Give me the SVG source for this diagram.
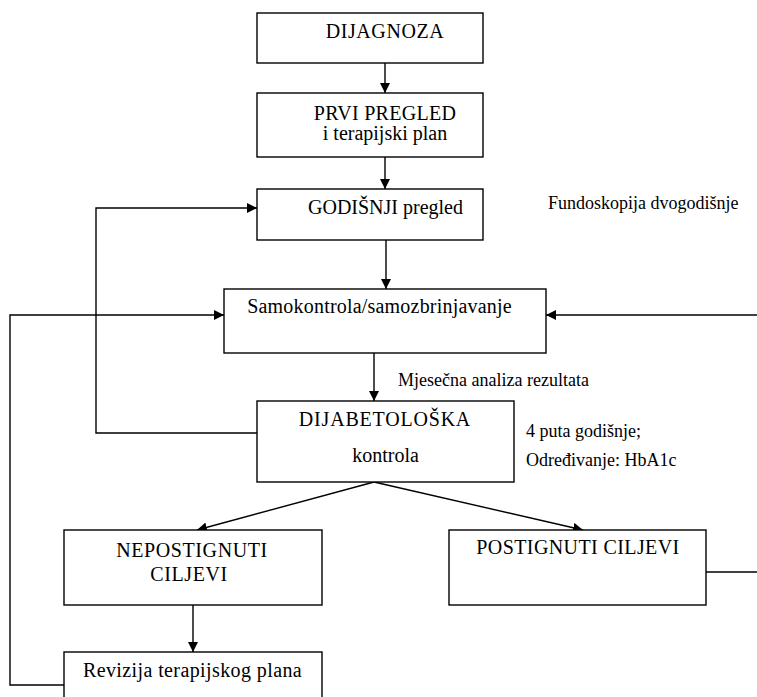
<svg xmlns="http://www.w3.org/2000/svg" width="757" height="697" viewBox="0 0 757 697">
<style>
.box{fill:#fff;stroke:#000;stroke-width:1.4}
text{font-family:"Liberation Serif","DejaVu Serif","Times New Roman",serif;fill:#000}
.t{font-size:20px;text-anchor:middle}
.a{font-size:18px}
.c{fill:none;stroke:#000;stroke-width:1.4}
</style>
<defs>
<marker id="ah" viewBox="0 0 10 10" refX="10" refY="5" markerWidth="10" markerHeight="10" markerUnits="userSpaceOnUse" orient="auto">
<path d="M0,0 L10,5 L0,10 Z" fill="#000"/>
</marker>
</defs>
<rect width="757" height="697" fill="#fff"/>
<g id="connectors">
<line class="c" x1="385" y1="63" x2="385" y2="93" marker-end="url(#ah)"/>
<line class="c" x1="385" y1="157" x2="385" y2="189" marker-end="url(#ah)"/>
<line class="c" x1="386" y1="240" x2="386" y2="289" marker-end="url(#ah)"/>
<line class="c" x1="374" y1="353" x2="374" y2="401" marker-end="url(#ah)"/>
<polyline class="c" points="257,433 96,433 96,208 257,208" marker-end="url(#ah)"/>
<polyline class="c" points="64,685 10,685 10,315 224,315" marker-end="url(#ah)"/>
<line class="c" x1="757" y1="315" x2="546" y2="315" marker-end="url(#ah)"/>
<line class="c" x1="706" y1="572" x2="757" y2="572"/>
<line class="c" x1="374" y1="482" x2="197" y2="530" marker-end="url(#ah)"/>
<line class="c" x1="374" y1="482" x2="583" y2="530" marker-end="url(#ah)"/>
<line class="c" x1="193" y1="605" x2="193" y2="652" marker-end="url(#ah)"/>
</g>
<g id="dijagnoza">
<rect class="box" x="257" y="13" width="226" height="50"/>
<text class="t" x="385" y="38" letter-spacing="0.6">DIJAGNOZA</text>
</g>
<g id="prvi-pregled">
<rect class="box" x="257" y="93" width="226" height="64"/>
<text class="t" x="385" y="120" letter-spacing="0.3">PRVI PREGLED</text>
<text class="t" x="385" y="140">i terapijski plan</text>
</g>
<g id="godisnji">
<rect class="box" x="257" y="189" width="226" height="51"/>
<text class="t" x="385.5" y="214">GODIŠNJI pregled</text>
</g>
<g id="samokontrola">
<rect class="box" x="224" y="289" width="322" height="64"/>
<text class="t" x="379.5" y="313" letter-spacing="0.2">Samokontrola/samozbrinjavanje</text>
</g>
<g id="dijabetoloska">
<rect class="box" x="257" y="401" width="257" height="81"/>
<text class="t" x="385" y="426" letter-spacing="0.8">DIJABETOLOŠKA</text>
<text class="t" x="385.5" y="462">kontrola</text>
</g>
<g id="nepostignuti">
<rect class="box" x="64" y="530" width="258" height="75"/>
<text class="t" x="192" y="557" letter-spacing="0.6">NEPOSTIGNUTI</text>
<text class="t" x="189" y="581" letter-spacing="0.6">CILJEVI</text>
</g>
<g id="postignuti">
<rect class="box" x="449" y="530" width="257" height="75"/>
<text class="t" x="578" y="554" letter-spacing="0.4">POSTIGNUTI CILJEVI</text>
</g>
<g id="revizija">
<rect class="box" x="64" y="652" width="258" height="60"/>
<text class="t" x="192.5" y="677" letter-spacing="0.4">Revizija terapijskog plana</text>
</g>
<g id="annotations">
<text class="a" x="548" y="209">Fundoskopija dvogodišnje</text>
<text class="a" x="398" y="386">Mjesečna analiza rezultata</text>
<text class="a" x="526" y="437">4 puta godišnje;</text>
<text class="a" x="526" y="466">Određivanje: HbA1c</text>
</g>
</svg>
